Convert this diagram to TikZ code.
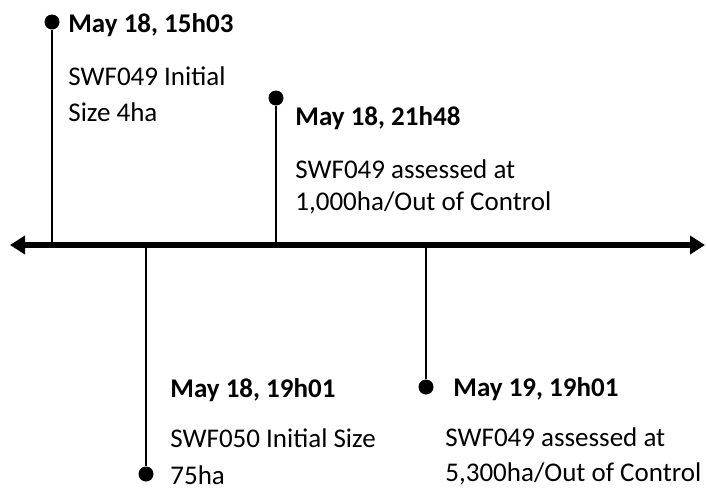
\documentclass[tikz,border=0pt]{standalone}
\usepackage{fontspec}
\setmainfont{Carlito}
\usetikzlibrary{arrows.meta, positioning}

\begin{document}
\begin{tikzpicture}[
    x=0.5pt, y=-0.5pt,
    axisline/.style={line width=3.2pt,
                     {Triangle[length=7.5pt, width=9pt]}-{Triangle[length=7.5pt, width=9pt]}},
    stem/.style={line width=1.2pt},
    dot/.style={circle, fill, inner sep=0pt, minimum size=7.5pt},
    date/.style={anchor=base west, inner sep=0pt, font=\fontsize{13.5}{16}\selectfont\bfseries},
    note/.style={anchor=base west, inner sep=0pt, align=left, font=\fontsize{13.5}{#1}\selectfont}
  ]
    \useasboundingbox (0,0) rectangle (707,489);
    % time axis
    \coordinate (tl) at (10,245);
    \coordinate (tr) at (705,245);
    \draw[axisline] (tl) -- (tr);

    % events above the axis
    \node[dot] (d1) at (52,22)  {};
    \node[dot] (d2) at (276,98) {};
    \coordinate (a1) at (52,245);
    \coordinate (a2) at (276,245);
    \draw[stem] (d1) -- (a1);
    \draw[stem] (d2) -- (a2);
    \node[date] (t1) at (68,32)   {May 18, 15h03};
    \node[note=18pt] (n1) at (68,121) {SWF049 Initial\\Size 4ha};
    \node[date] (t2) at (295,125) {May 18, 21h48};
    \node[note=16pt] (n2) at (295,210) {SWF049 assessed at\\1,000ha/Out of Control};

    % events below the axis
    \node[dot] (d3) at (146,474) {};
    \node[dot] (d4) at (426,387) {};
    \coordinate (a3) at (146,245);
    \coordinate (a4) at (426,245);
    \draw[stem] (a3) -- (d3);
    \draw[stem] (a4) -- (d4);
    \node[date] (t3) at (170,397) {May 18, 19h01};
    \node[note=18.5pt] (n3) at (170,484) {SWF050 Initial Size\\75ha};
    \node[date] (t4) at (453,396) {May 19, 19h01};
    \node[note=17.5pt] (n4) at (445,481) {SWF049 assessed at\\5,300ha/Out of Control};
\end{tikzpicture}
\end{document}
